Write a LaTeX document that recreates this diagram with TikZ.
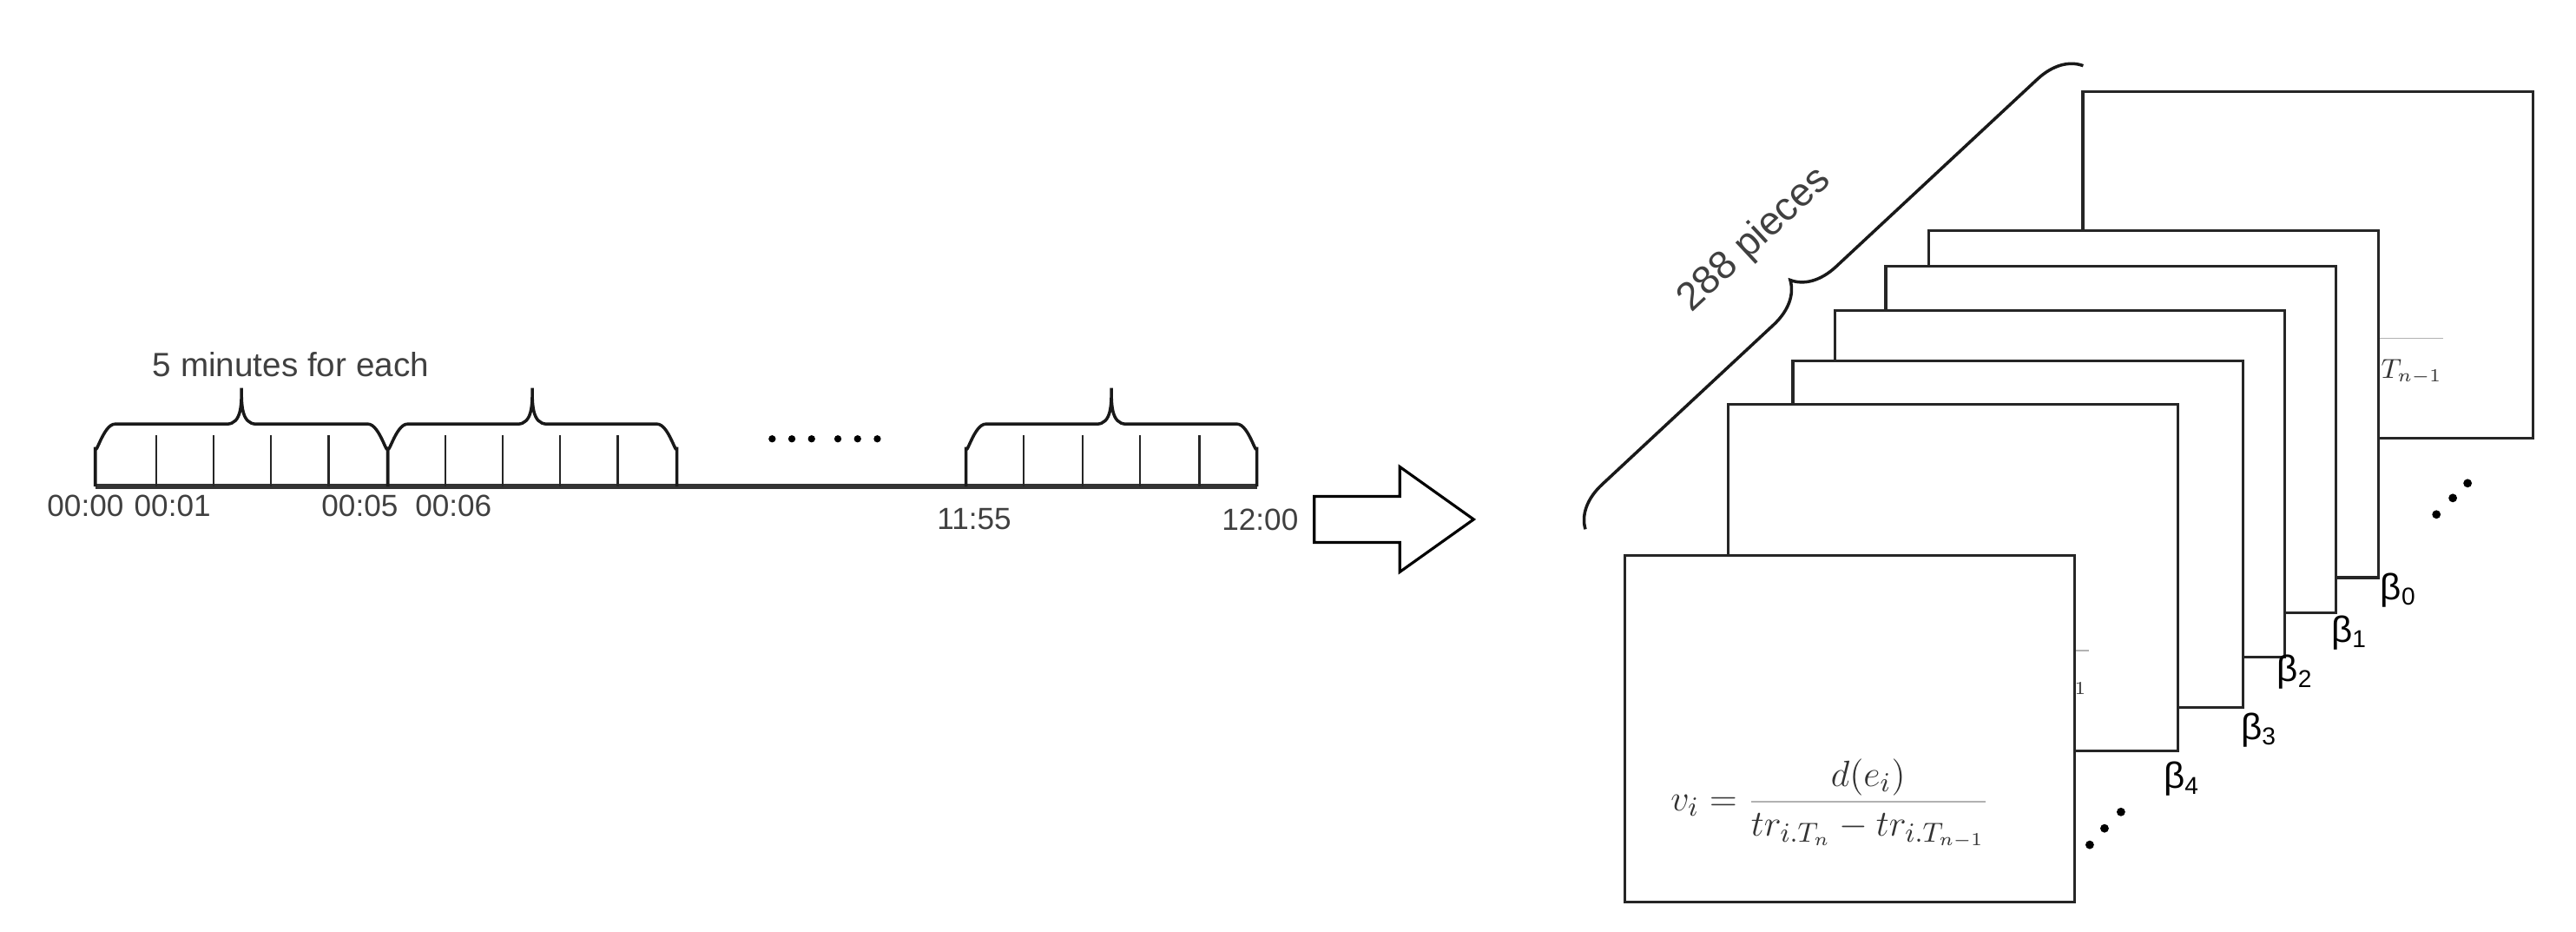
\documentclass[tikz,border=0pt]{standalone}
\usepackage{amsmath}
\usepackage{fontspec}
\setmainfont{Liberation Sans}
\usetikzlibrary{decorations.pathreplacing}
\begin{document}
\begin{tikzpicture}[x=0.01892cm,y=-0.01892cm,
  lab/.style={text=black!75,font=\fontsize{10}{12}\selectfont,inner sep=0},
  card/.style={draw=black!85,line width=0.9pt,fill=white,minimum width=5.184cm,minimum height=3.992cm,inner sep=0,anchor=north west},
  form/.style={inner sep=0,font=\fontsize{13}{15}\selectfont,text=black!80},
  bl/.style={inner sep=0,font=\fontsize{12}{14}\selectfont},
  tl/.style={line width=1.6pt,black!80},
  tk/.style={line width=0.7pt,black!85},
  br/.style={line width=1pt,black!90}]
\useasboundingbox (0,0) rectangle (1568,566.6);
\newcommand\vform{$v_i={\color{black!30}\dfrac{\color{black!80}d(e_i)}{\color{black!80}tr_{i.T_n}-tr_{i.T_{n-1}}}}$}
% timeline
\coordinate (t0) at (58,296); \coordinate (t1) at (765,296);
\draw[tl] (t0) -- (t1);
\foreach \a/\b in {58/236,236/412,588/765}{
  \pgfmathsetmacro\m{(\a+\b)/2}
  \draw[br] (\a,296) -- (\a,272) to[out=-90,in=180] (\a+12,258) -- (\m-9,258) to[out=0,in=-90] (\m,236) to[out=-90,in=180] (\m+9,258) -- (\b-12,258) to[out=0,in=-90] (\b,272) -- (\b,296);
}
\foreach \x in {95,130,165,200,271,306,341,376,623,659,694,730}{\draw[tk] (\x,265) -- (\x,296);}
\foreach \x in {470,482,494,510,522,534}{\fill (\x,267) circle (2.2);}
\node[lab] (l1) at (52,308) {00:00};
\node[lab] (l2) at (105,308) {00:01};
\node[lab] (l3) at (219,308) {00:05};
\node[lab] (l4) at (276,308) {00:06};
\node[lab] (l5) at (593,316) {11:55};
\node[lab] (l6) at (767,316) {12:00};
\node[lab,font=\fontsize{11}{13}\selectfont] (title) at (177,222) {5 minutes for each};
% block arrow
\draw[line width=0.9pt,fill=white] (800,302)--(852,302)--(852,284)--(897,316)--(852,348)--(852,330)--(800,330)--cycle;
% cards
\foreach \n/\x/\y in {bk/1267/55,c0/1173/139.6,c1/1147/161,c2/1116/188,c3/1090.5/218.6,c4/1051/245,fr/988/337}{
  \node[card] (\n) at (\x,\y) {};
  \node[form] (f\n) at ([xshift=2.38cm,yshift=-2.87cm]\n.north west) {\vform};
}
% beta labels
\node[bl] (b0) at (1460,359) {β\textsubscript{0}};
\node[bl] (b1) at (1430,385) {β\textsubscript{1}};
\node[bl] (b2) at (1397,409) {β\textsubscript{2}};
\node[bl] (b3) at (1375,444) {β\textsubscript{3}};
\node[bl] (b4) at (1328,474) {β\textsubscript{4}};
% dots
\foreach \x/\y in {1272/514,1281/504,1291/494,1483/313,1493/303,1502/294}{\fill (\x,\y) circle (2.6);}
% 288 brace
\coordinate (ba) at (965,322); \coordinate (bb) at (1268,40);
\draw[br,decorate,decoration={brace,amplitude=14pt,aspect=0.47}] (ba) -- (bb);
\node[lab,font=\fontsize{13}{15}\selectfont,rotate=43] (pc) at (1068,146) {288 pieces};
\end{tikzpicture}
\end{document}
